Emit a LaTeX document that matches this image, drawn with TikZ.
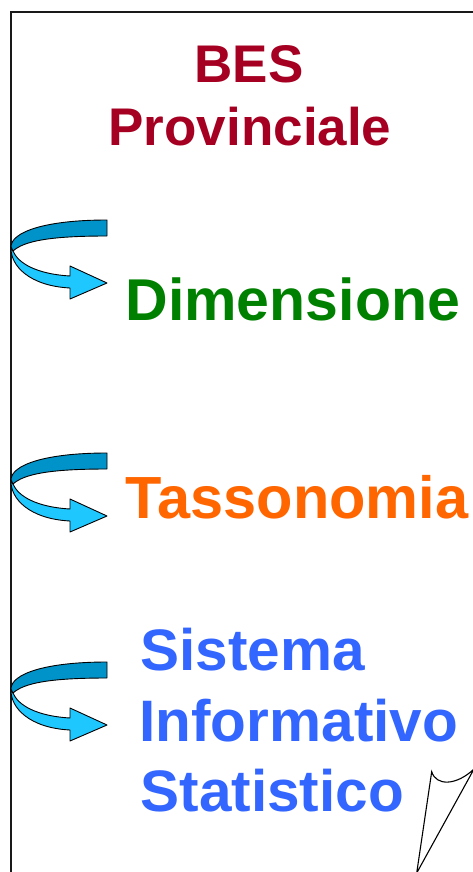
\documentclass[tikz,border=0pt]{standalone}
\usepackage{fontspec}
\setmainfont{Liberation Sans}
\definecolor{besred}{HTML}{A50021}
\definecolor{dimgreen}{HTML}{008000}
\definecolor{tasorange}{HTML}{FF6600}
\definecolor{sisblue}{HTML}{3366FF}
\definecolor{arrdark}{HTML}{0093C9}
\definecolor{arrlight}{HTML}{1EC8FF}
\tikzset{
  txt/.style={inner sep=0pt, outer sep=0pt, font=\bfseries},
  bandpart/.style={draw=black, line width=0.9pt, line join=round},
}
\newcommand{\curlarrow}[1]{%
  \begin{scope}[shift={(0,#1)}]
    \fill[arrlight, bandpart] (11,27) .. controls (10,46) and (30,66) .. (70,68)
      -- (70,79) -- (107,63) -- (70,46) -- (70,56)
      .. controls (36,54) and (18,43) .. (13,31) -- cycle;
    \fill[arrdark, bandpart] (107,0) .. controls (45,0) and (11,12) .. (11,27)
      -- (13,31) .. controls (24,21) and (50,16) .. (107,16) -- cycle;
  \end{scope}}
\begin{document}
\begin{tikzpicture}[x=1pt,y=-1pt]
\useasboundingbox (0,0) rectangle (473,872);
\clip (0,0) rectangle (473,872);
\fill[white] (0,0) rectangle (473,872);
\draw[line width=2pt, black!90] (10.5,12.5) rectangle (490,890);
\node[txt, anchor=base, text=besred] (bes) at (249,82.7)
  {\fontsize{53}{60}\selectfont BES};
\node[txt, anchor=base, text=besred] (prov) at (250,145)
  {\fontsize{53}{60}\selectfont Provinciale};
\node[txt, anchor=base west, text=dimgreen] (dim) at (125.5,320.5)
  {\fontsize{59}{66}\selectfont Dimensione};
\node[txt, anchor=base west, text=tasorange] (tas) at (125.5,518.5)
  {\fontsize{59.5}{66}\selectfont Tassonomia};
\node[txt, anchor=base west, text=sisblue] (sis1) at (140.5,670)
  {\fontsize{58.5}{66}\selectfont Sistema};
\node[txt, anchor=base west, text=sisblue] (sis2) at (139.5,741)
  {\fontsize{58.5}{66}\selectfont Informativo};
\node[txt, anchor=base west, text=sisblue] (sis3) at (140.5,811.7)
  {\fontsize{58.5}{66}\selectfont Statistico};
\curlarrow{220}
\curlarrow{453}
\curlarrow{662}
\filldraw[fill=white, draw=black, line width=1.1pt, line join=miter]
  (431.7,771.7) .. controls (436,786) and (456,786) .. (474,769)
  -- (416.7,873) -- cycle;
\end{tikzpicture}
\end{document}
